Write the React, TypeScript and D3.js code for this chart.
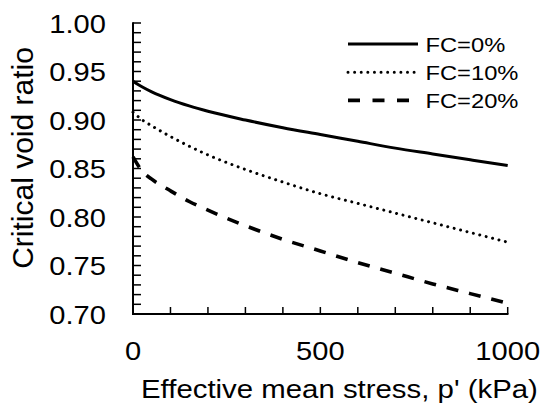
import React from "react";
import * as d3 from "d3";

const pressures = [0, 25, 50, 100, 150, 200, 300, 400, 500, 600, 700, 800, 900, 1000];
const fc0 = [0.940, 0.934, 0.929, 0.921, 0.9145, 0.909, 0.900, 0.892, 0.885, 0.878, 0.871, 0.865, 0.859, 0.853];
const fc10 = [0.908, 0.900, 0.894, 0.883, 0.873, 0.864, 0.849, 0.836, 0.824, 0.814, 0.804, 0.794, 0.784, 0.774];
const fc20 = [0.862, 0.847, 0.839, 0.827, 0.816, 0.807, 0.791, 0.777, 0.765, 0.753, 0.742, 0.731, 0.721, 0.711];
const seriesLabels = ["FC=0%", "FC=10%", "FC=20%"];
const xTickLabels = [0, 500, 1000];
const yTickLabels = [0.7, 0.75, 0.8, 0.85, 0.9, 0.95, 1.0];

const FONT = "'Liberation Sans', Arial, Helvetica, sans-serif";

export default function App() {
  const W = 542, H = 405;
  const x = d3.scaleLinear().domain([0, 1000]).range([133, 507.7]);
  const y = d3.scaleLinear().domain([0.7, 1.0]).range([314, 23]);
  const line = d3
    .line<number>()
    .x((_, i) => x(pressures[i]))
    .y((d) => y(d))
    .curve(d3.curveMonotoneX);

  const styles = [
    { w: 3, dash: undefined as string | undefined, cap: "butt" as const },
    { w: 3, dash: "0.01 6.6", cap: "round" as const },
    { w: 3.6, dash: "12 11", cap: "butt" as const },
  ];
  const legendDash = [undefined, "0.01 6.6", "12 12.5"];
  const series = [fc0, fc10, fc20];

  const yMinor = d3.range(0, 31).map((i) => 0.7 + i * 0.01);
  const xMinor = d3.range(0, 11).map((i) => i * 100);
  const sx = 1.12;

  return (
    <svg width={W} height={H} style={{ position: "absolute", left: 0, top: 0, background: "#fff" }}>
      <rect x={0} y={0} width={W} height={H} fill="#fff" />
      {yMinor.map((v, i) => (
        <line key={"yt" + i} x1={133} x2={141} y1={y(v)} y2={y(v)} stroke="#000" strokeWidth={1.5} />
      ))}
      {xMinor.map((v, i) => (
        <line key={"xt" + i} x1={x(v)} x2={x(v)} y1={314} y2={307} stroke="#000" strokeWidth={1.5} />
      ))}
      <line x1={133} x2={133} y1={y(1.0) - 0.75} y2={315} stroke="#000" strokeWidth={2} />
      <line x1={132} x2={x(1000) + 0.75} y1={314} y2={314} stroke="#000" strokeWidth={2} />
      {yTickLabels.map((v, i) => (
        <text
          key={"yl" + i}
          transform={`translate(106,${y(v) + 9.5}) scale(${sx},1)`}
          textAnchor="end"
          fontFamily={FONT}
          fontSize={26}
          fill="#000"
        >
          {v.toFixed(2)}
        </text>
      ))}
      {xTickLabels.map((v, i) => (
        <text
          key={"xl" + i}
          transform={`translate(${x(v)},360) scale(${sx},1)`}
          textAnchor="middle"
          fontFamily={FONT}
          fontSize={26}
          fill="#000"
        >
          {v}
        </text>
      ))}
      <text
        transform={`translate(141,398) scale(1.13,1)`}
        fontFamily={FONT}
        fontSize={26}
        fill="#000"
      >
        Effective mean stress, p' (kPa)
      </text>
      <text
        transform={`translate(33,158) rotate(-90)`}
        textAnchor="middle"
        fontFamily={FONT}
        fontSize={30}
        fill="#000"
      >
        Critical void ratio
      </text>
      {series.map((s, i) => (
        <path
          key={"s" + i}
          d={line(s) || ""}
          fill="none"
          stroke="#000"
          strokeWidth={styles[i].w}
          strokeDasharray={styles[i].dash}
          strokeLinecap={styles[i].cap}
        />
      ))}
      {seriesLabels.map((lab, i) => {
        const ly = 44 + i * 28.2;
        return (
          <g key={"lg" + i}>
            <line
              x1={348}
              x2={418}
              y1={ly}
              y2={ly}
              stroke="#000"
              strokeWidth={styles[i].w}
              strokeDasharray={legendDash[i]}
              strokeLinecap={styles[i].cap}
            />
            <text
              transform={`translate(425.5,${ly + 7.7}) scale(1.13,1)`}
              fontFamily={FONT}
              fontSize={21}
              fill="#000"
            >
              {lab}
            </text>
          </g>
        );
      })}
    </svg>
  );
}
